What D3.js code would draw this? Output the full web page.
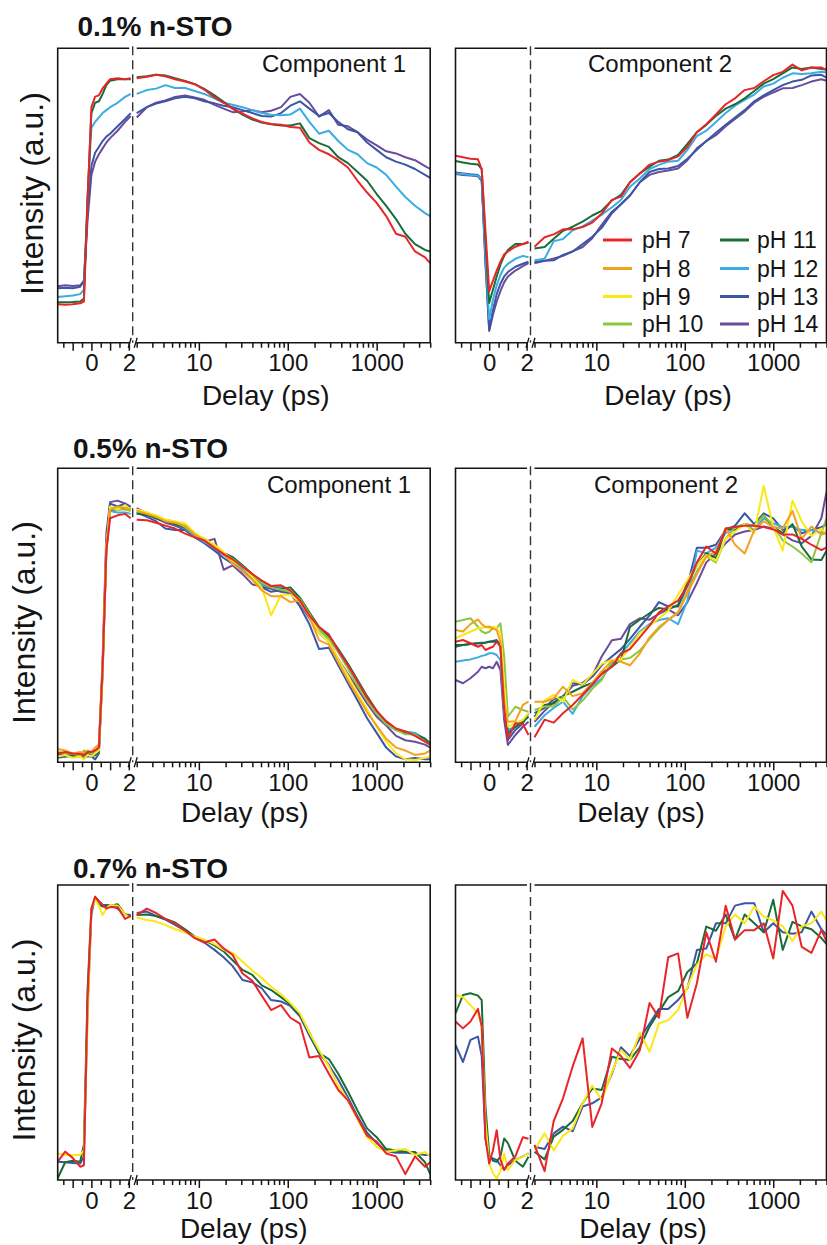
<!DOCTYPE html>
<html>
<head>
<meta charset="utf-8">
<script src="https://cdn.jsdelivr.net/npm/d3@7"></script>
<style>
  body { margin: 0; background: #fff; }
  svg { display: block; font-family: "Liberation Sans", Arial, sans-serif; }
</style>
</head>
<body>
<svg id="chart" width="827" height="1245"></svg>
<script>
// delay grid (ps): linear part before the axis break, log part after it
var delayLin = [-1.8, -1.4, -1.0, -0.6, -0.4, -0.2, 0, 0.2, 0.4, 0.6, 0.8, 1.0, 1.4, 1.8, 2.1];
var delayLog = [2, 2.6, 3.3, 4.2, 5.4, 7, 9, 11.5, 15, 19, 24, 31, 40, 51, 65, 84, 107, 137, 175, 225,
                290, 370, 475, 610, 780, 1000, 1280, 1650, 2100, 2700, 3500, 4000];

var phLevels = [7, 8, 9, 10, 11, 12, 13, 14];
var phColors = ["#e8262a", "#f6a01f", "#fbe815", "#8cc63f", "#1a6c38", "#3aade2", "#3b56a6", "#6a4c9c"];

var rowTitles = ["0.1% n-STO", "0.5% n-STO", "0.7% n-STO"];
var linTicks = [-1.5, -1, -0.5, 0, 0.5, 1, 1.5, 2];
var linLabels = [0, 2];
var logLabels = [10, 100, 1000];

// intensities in % of the panel height; 15 values on delayLin then 32 on delayLog
var sto01_c1 = {
  7:  [13.1, 12.9, 13.1, 13.4, 14, 48, 80, 83.6, 84, 86.4, 88, 89.5, 89.8, 89.5, 89.8,
       89.8, 90.3, 91, 90.5, 89.5, 88.7, 87.8, 86, 83.3, 81.5, 79.5, 77.8, 76.2, 75, 74.3, 74, 73.3, 73, 68, 65.5, 64, 62, 59.5, 55, 51, 47.5, 43, 37, 36, 31, 29, 27],
  11: [13.7, 13.7, 13.8, 14, 15, 50, 78, 81.5, 82, 84.5, 87.5, 89, 89.5, 89.5, 89.5,
       90.2, 90.5, 91, 90.8, 89.8, 88.9, 87.8, 86.2, 84, 81.8, 79.5, 77.5, 75.8, 74.8, 74.2, 73.8, 73.8, 74.5, 69.5, 67.8, 66.5, 63, 61, 58, 55, 50.5, 46.5, 42, 37, 33.5, 31.5, 31],
  12: [15.5, 15.8, 16, 16.5, 18, 50, 73, 75, 76.5, 78, 79, 80, 81.5, 83.5, 84.5,
       84.5, 85.8, 86.3, 87.5, 86.5, 86.5, 85.5, 84.5, 83, 81.5, 80.8, 80, 79, 78, 77.4, 77.3, 77.5, 79.5, 75, 71, 72, 68.5, 65.5, 64, 61, 59.5, 57, 53, 49.5, 46.5, 44, 43],
  13: [18.5, 18.7, 18.5, 19, 21, 45, 60, 64.5, 66.5, 68.5, 70, 71, 73.5, 76, 78,
       78, 80, 81.2, 82, 83, 83.5, 83, 82, 81.3, 80.5, 80, 79, 78, 77, 76.8, 78, 80.5, 82, 79.5, 77, 78, 75, 72.5, 71.5, 68, 65.5, 63, 61.5, 60.5, 59, 57, 56],
  14: [19.2, 19.5, 19.3, 19.5, 21, 42, 57, 61.5, 64, 66, 68, 69.5, 72, 75, 77,
       76.5, 80, 81.5, 82.3, 83.5, 84, 83.3, 82.5, 80.8, 79.5, 78.3, 78.5, 79, 78.3, 78.8, 80, 83.5, 84.5, 81.5, 76.8, 79, 74, 73.5, 71.5, 69, 67, 65, 64.3, 63, 62, 60, 59]
};

var sto01_c2 = {
  7:  [63.5, 63, 62.5, 62.3, 59, 38, 17.5, 21, 24.5, 27.5, 30, 31, 32.6, 33.5, 34.3,
       32.6, 35.8, 36.8, 38.5, 38.5, 39.3, 40.8, 43.8, 48.5, 49.6, 54.5, 57.5, 60.5, 61.5, 62, 63.3, 66.5, 71.5, 74.2, 77.5, 81, 83, 85.8, 86.5, 88.8, 90.9, 92, 94.5, 92.5, 93.5, 93.5, 92.6],
  11: [61.7, 61.2, 60.8, 60.5, 59, 35, 13.5, 18, 22.5, 26.5, 29.5, 31.5, 33.5, 33.5, 34,
       32, 32.5, 35.3, 38, 39.4, 41.1, 43.2, 44.8, 48.3, 50.2, 54.5, 57.5, 59.8, 61.8, 62.2, 63.8, 67.5, 71.5, 74, 77, 79.5, 81, 83, 85.5, 88, 89.5, 91.5, 93.5, 93, 93.5, 93, 92.8],
  12: [57.5, 57.3, 57, 56.8, 55.5, 30, 8, 14.5, 19.5, 23, 25.5, 26.8, 28.5, 29.5, 29,
       28, 28.5, 34.5, 35.2, 38.2, 39.5, 41.5, 43.5, 46, 48.5, 53, 55.8, 59, 60.4, 61.5, 61.8, 65.5, 70.2, 72, 75, 78, 80.5, 82.5, 84.3, 87, 88, 90, 91.5, 91.3, 91.5, 92, 91.8],
  13: [57.8, 57.5, 57.2, 57, 55.5, 28, 4.5, 11, 16.5, 20, 22.5, 24, 25.8, 26.8, 27.5,
       27.5, 27.8, 28, 29.8, 31, 33.5, 36, 39, 44, 47, 50, 54.5, 58, 59, 59.2, 60, 62.5, 65.5, 68.5, 71.3, 74, 76.5, 79, 82, 84, 85.8, 87.5, 88.7, 89.3, 90.8, 91, 90],
  14: [57.3, 57, 56.8, 56.5, 55, 27, 4, 9.5, 14, 17.5, 20.5, 22.5, 24.5, 26, 27,
       27, 27.8, 28.6, 29.5, 31, 32.5, 35.5, 40, 44.5, 47, 50, 54.5, 57, 58, 58.5, 59.2, 62, 66, 68.5, 70.5, 73.5, 76, 78.5, 81.5, 83.5, 85, 86.4, 86.5, 87.5, 88.7, 89.5, 89]
};

var sto05_c1 = {
  7:  [3, 3.5, 3, 2.8, 2.5, 3.5, 3.5, 4, 5, 32, 72, 83, 84, 84.5, 83,
       82.5, 82.3, 81.5, 80.5, 79.5, 77.8, 76.5, 75.5, 72.9, 70.8, 69, 66.5, 64, 61.8, 60, 60.2, 58.5, 55, 50, 46, 43.5, 38, 33, 27.5, 22, 17.5, 14, 11.5, 10.5, 9, 7, 6],
  8:  [4.5, 4, 3, 3.5, 3, 4, 3.5, 5, 6, 33, 74, 86, 87, 86.5, 86,
       85.5, 84.5, 83.5, 82, 81.5, 80.5, 77.5, 75.5, 73, 71, 67.5, 65, 62, 58.5, 56.5, 56.5, 54.5, 55, 49.5, 41.5, 40, 34, 28, 22.5, 17, 12.5, 8, 5, 4, 2.5, 3, 4],
  9:  [2, 2.5, 1.5, 2, 1, 2.5, 2, 3, 4, 30, 73, 87, 86, 87.5, 86,
       86, 85, 84, 82.5, 82, 81.2, 78, 76, 74, 71.5, 68.5, 66.5, 63, 59.5, 50, 57, 57, 54.5, 50, 44, 41, 35, 29.5, 23.5, 18, 12, 7, 3, 1, 0.8, 1.5, 2],
  10: [3.5, 3, 3, 2, 4, 3.5, 3, 4, 5, 33, 73, 86.5, 86, 86, 85.5,
       85.8, 85, 83.5, 82.5, 81.8, 80, 77.5, 75.8, 73.5, 71, 69.2, 66.5, 63.5, 61, 59.5, 58.7, 58, 55.5, 50.5, 45, 42, 37.5, 32, 26, 21, 16.5, 13, 11, 9.5, 9.5, 7, 6],
  11: [2.5, 2, 2.5, 2, 2.5, 3, 2, 2.5, 3.5, 31, 72, 86, 86, 86.5, 86,
       84.5, 84.2, 83, 82, 81, 79.8, 77.5, 76, 73.8, 71.2, 69.8, 67, 64, 61, 59.5, 59, 59.5, 56, 51, 46, 43, 38.5, 33.5, 28, 22.5, 17.5, 13.5, 11, 10, 9.5, 8, 6.5],
  12: [2.5, 2, 2, 2.5, 2, 3, 2.5, 2.5, 3.5, 30, 72, 85.5, 85, 85, 84.5,
       85, 84.5, 83.3, 82, 81, 79.5, 77, 75, 73, 70.5, 68.3, 65.8, 63, 60.5, 59.5, 59.8, 58, 55, 50, 45, 42.5, 37.5, 32, 26.5, 21.5, 17, 13, 11, 10.5, 10, 8, 6],
  13: [1.5, 2, 2.5, 2, 1.5, 2, 2, 1, 3, 32, 75, 88, 87, 88, 87,
       85, 83.5, 82, 79.5, 79, 79, 76.5, 74.5, 72, 69.5, 67.5, 65, 62.5, 59.5, 58, 58.5, 57.5, 53, 47, 38.5, 39, 33, 27, 21, 15, 10, 5, 2, 1, 1.5, 1, 1],
  14: [2.5, 3, 2, 3, 2.5, 3, 2.5, 3, 4, 35, 78, 88.5, 89, 88, 86,
       86.5, 84.5, 83, 81.5, 80.5, 79, 77, 75, 76, 65.5, 67, 64, 60.5, 59.8, 59, 58, 57.5, 54, 49, 44, 41, 35, 30, 25, 20, 15.5, 12.5, 9, 7.5, 7, 6, 5]
};

var sto05_c2 = {
  7:  [41, 41.6, 40.5, 39.3, 39.9, 38.2, 38.8, 39.3, 41, 39.3, 17.8, 8.2, 13.3, 13, 9.3,
       8.5, 14.5, 13.5, 16.7, 19.5, 23, 26.5, 30, 32.5, 37, 38.5, 42.5, 46.5, 51, 53, 55, 60, 68, 73.4, 71, 79.5, 80, 80.5, 80.5, 80, 79.2, 77.5, 77.5, 76, 74, 72.2, 73],
  8:  [45, 44.5, 47, 48.6, 47, 46, 46.2, 45.5, 45, 41, 20.5, 13.8, 14, 19.5, 20.6,
       20.6, 20.6, 21.8, 25.7, 22.5, 23.5, 27, 31, 34.5, 34.2, 33, 37, 42.5, 46, 48.4, 51, 57.5, 64, 70, 71.7, 79.5, 74, 71, 79, 82, 80, 79.5, 85.5, 76, 80.2, 77.5, 78],
  9:  [42.2, 43.3, 44.4, 45.6, 45.6, 46.1, 45.6, 46.1, 45.6, 43.9, 25.7, 12.1, 13.3, 14.4, 16.7,
       14.4, 21, 23, 20.6, 28, 26.5, 30, 33.5, 34.8, 35, 39, 44, 46.5, 49, 51.5, 57, 62, 67, 70.5, 68.5, 76, 78.5, 81, 78, 94, 80, 72, 89, 82, 77, 79.5, 77.5],
  10: [47.8, 48.4, 49, 46.1, 44.5, 43.9, 44.4, 45.6, 45.6, 47.3, 36, 15.5, 18.9, 17.8, 17.2,
       17.8, 19, 19, 22.3, 18, 21, 25, 28, 34.5, 35, 35.5, 38, 42, 45.5, 48.4, 51, 58, 65, 70, 68, 76, 80, 81, 80.5, 84, 80.5, 75.5, 73.4, 71, 68, 78, 83],
  11: [39.9, 39.9, 40.2, 40.5, 40.7, 40.7, 41, 41, 41, 40.5, 20, 9.9, 12, 13.8, 15.5,
       15.5, 19.5, 20, 22.5, 24, 25.7, 27, 30.3, 32.5, 35, 46, 48.5, 50.7, 52.5, 52, 53.5, 61, 67, 71.1, 69.5, 79.5, 79, 81, 80.5, 84, 80, 78, 81, 73.4, 69, 68.8, 72],
  12: [34.2, 34.6, 35, 35.7, 36.2, 36.5, 37.1, 37.1, 36.5, 34.8, 16.7, 11, 12.1, 14.4, 15.5,
       12.1, 16, 18.5, 20.6, 16.5, 22.5, 26, 28.5, 33.5, 37, 40.5, 44.5, 47, 48.4, 49, 47, 55, 72, 71.1, 73, 78, 80, 81, 79, 83, 81.3, 80, 80, 79, 79, 78, 78],
  13: [39.3, 39.9, 40.2, 40.5, 40.5, 40.7, 41, 41.3, 41.6, 39.9, 16.7, 7.6, 11, 13.3, 16.7,
       16.7, 18.5, 21.5, 22.3, 26.9, 26.5, 29.1, 33, 36, 38.5, 42, 46.1, 50, 54.5, 53, 53, 60, 73, 73, 74, 79, 80.5, 84.7, 81, 84.7, 83, 79, 80.5, 77.9, 79, 80, 81],
  14: [28, 26.9, 28.6, 30.8, 32.5, 32, 32.5, 32, 34.2, 31.4, 14.4, 5.9, 9.3, 12.1, 13.8,
       13.8, 17.5, 20.5, 22.3, 26, 27, 29.5, 36, 41.5, 42, 47, 49, 48.5, 50.5, 52, 50, 54.5, 61, 68, 71, 74.5, 77.5, 78.5, 79, 80.2, 79.5, 77.5, 75.5, 74.5, 77, 83, 92]
};

var sto07_c1 = {
  7:  [6.2, 9.6, 7.5, 4.5, 5, 62, 92, 96, 94.5, 93.2, 92, 92.5, 92.5, 88.5, 89.5,
       89.8, 92, 90.5, 88.5, 87, 84.5, 82, 80.5, 81.5, 78.5, 76.3, 70, 67.5, 62.5, 57.6, 59.3, 55, 53, 41.5, 42, 36, 30.5, 27, 21, 15, 13, 9, 8, 2, 8, 4.5, 6],
  9:  [9, 8.5, 8.5, 8.5, 10, 55, 92, 95, 93, 89.8, 92, 93.2, 93, 90, 88.8,
       89, 88.1, 87.6, 86.5, 85, 84, 82.5, 81.5, 80, 78, 77, 74, 71, 68.5, 65.5, 63, 60, 56.5, 50, 44, 38.5, 32, 27, 20.5, 14.5, 11.3, 9.5, 10.2, 10.5, 8.5, 9.5, 8],
  11: [0.6, 6, 6.5, 6.2, 12, 65, 92, 95.5, 93.5, 92.7, 92.7, 93, 93.5, 90, 89.5,
       89.8, 90, 89.5, 88.5, 87.3, 85, 82.5, 81.3, 79.5, 77.5, 74.5, 71.2, 69.5, 66, 64.4, 62, 59.5, 56, 50, 43, 41, 36, 30, 23.5, 17.5, 14.5, 10.5, 10, 9.6, 9.5, 6, 2],
  13: [6.2, 6, 5.8, 5.6, 8, 58, 90, 96, 94.5, 93.2, 93.2, 93.2, 92, 90, 89.8,
       90.5, 91, 89.5, 88.3, 86.5, 84.5, 82.5, 80.5, 78, 75.5, 72.5, 67.8, 67, 65, 61, 60.5, 59, 55.5, 49, 43, 39, 34, 28, 21.5, 16, 12.5, 9.8, 9.2, 9.2, 9, 8.5, 8.5]
};

var sto07_c2 = {
  7:  [53.7, 51.4, 53.7, 58, 52, 14, 5.6, 10, 16.9, 7, 3.4, 5.6, 8, 14.5, 14,
       11.9, 3, 20, 27.7, 38.5, 48, 18, 26, 44.6, 42, 38, 44, 60, 55, 75.5, 76.8, 55, 66.7, 84, 74, 93, 81.5, 84.7, 84.7, 87, 75.1, 98, 93, 79, 77, 84.7, 81],
  9:  [62.7, 62, 59.3, 56.5, 52, 20, 5.6, 2.3, 0.5, 3, 9, 3.4, 6.8, 7.9, 9,
       10.2, 15.8, 10, 15, 17.5, 26, 32, 27.1, 36.5, 44, 40.7, 50, 43.5, 53, 54.2, 57.6, 65.5, 73, 76.5, 75, 86, 90, 87, 92.7, 89.3, 88, 86, 81, 86, 87, 91, 88],
  11: [56.5, 62.7, 63.3, 62.5, 61, 25, 8.5, 6.5, 6.2, 8, 14.1, 12.5, 6.5, 4.5, 7.9,
       9.6, 7, 14.7, 17, 20, 26, 31, 30.5, 41.8, 41, 40.7, 45, 52, 57, 62, 64, 70.5, 73.4, 85.9, 84.5, 90, 81.5, 90, 87, 84, 95, 78, 87.5, 86, 85, 82, 80],
  13: [45.8, 40, 47.5, 48.6, 42, 14, 7.9, 7.3, 6.8, 5, 3.5, 5, 6.8, 8, 9,
       11.3, 10.5, 15.8, 18.1, 16.5, 24.9, 26, 28, 36, 45, 42, 48, 53, 58, 58, 61, 65, 78, 78.5, 87, 87, 93, 93.8, 93.8, 84, 87, 84, 83.5, 84, 91, 85, 83]
};

// panel layout
var colLeft = [57.7, 455.5];
var colWidth = [372.5, 371];
var rowTop = [48.3, 468.3, 885];
var rowBottom = [342.7, 762.3, 1180];
var titlePos = [[77.5, 35.5], [73, 458], [73, 878]];
var yLabelPos = [[43, 193.5], [35, 622.5], [35, 1040]];
var delayPos = [[[208, 405], [212.5, 405]], [[187, 821.5], [185.5, 821.5]], [[186, 1238], [187.5, 1238]]];

var panels = [
  { row: 0, col: 0, data: sto01_c1, comp: "Component 1", compX: 262, compY: 71.7 },
  { row: 0, col: 1, data: sto01_c2, comp: "Component 2", compX: 588, compY: 71.7, legend: true },
  { row: 1, col: 0, data: sto05_c1, comp: "Component 1", compX: 267, compY: 493 },
  { row: 1, col: 1, data: sto05_c2, comp: "Component 2", compX: 594, compY: 493 },
  { row: 2, col: 0, data: sto07_c1 },
  { row: 2, col: 1, data: sto07_c2 }
];

var svg = d3.select("#chart");
var ink = "#141414";
var color = d3.scaleOrdinal().domain(phLevels).range(phColors);

panels.forEach(function(p, pi){
	var L = colLeft[p.col], W = colWidth[p.col];
	var top = rowTop[p.row], bottom = rowBottom[p.row];
	var xLin = d3.scaleLinear().domain([-1.8, 2.1]).range([L, L + 73]);
	var xLog = d3.scaleLog().domain([2, 4000]).range([L + 79, L + W]);
	var y = d3.scaleLinear().domain([0, 100]).range([bottom, top]);

	svg.append("clipPath").attr("id", "clip" + pi)
		.append("rect")
		.attr("x", L).attr("y", top)
		.attr("width", W).attr("height", bottom - top);

	// Draw curves, red on top
	var curves = svg.append("g").attr("clip-path", "url(#clip" + pi + ")");
	var shown = phLevels.filter(function(ph){ return p.data[ph]; }).reverse();
	var nLin = delayLin.length;
	shown.forEach(function(ph){
		var vals = p.data[ph];
		var linPart = delayLin.map(function(t, i){ return [t, vals[i]]; });
		var logPart = delayLog.map(function(t, i){ return [t, vals[nLin + i]]; });
		[[linPart, xLin], [logPart, xLog]].forEach(function(part){
			var sx = part[1];
			curves.append("path")
				.attr("d", d3.line()
					.x(function(d){ return sx(d[0]); })
					.y(function(d){ return y(d[1]); })(part[0]))
				.attr("fill", "none")
				.attr("stroke", color(ph))
				.attr("stroke-width", 2)
				.attr("stroke-linejoin", "round");
		});
	});

	// Frame with the break
	var frame = svg.append("g")
		.attr("fill", "none")
		.attr("stroke", ink)
		.attr("stroke-width", 1.6);
	frame.append("path").attr("d",
		"M " + (L + 71.5) + " " + top + " H " + L + " V " + bottom + " H " + (L + 72.5) +
		" M " + (L + 78.5) + " " + bottom + " H " + (L + W) + " V " + top + " H " + (L + 79));
	frame.append("path").attr("stroke-width", 1.3).attr("d",
		"M " + (L + 70.5) + " " + (bottom + 5) + " L " + (L + 73.5) + " " + (bottom - 5) +
		" M " + (L + 76.5) + " " + (bottom + 5) + " L " + (L + 79.5) + " " + (bottom - 5));
	svg.append("line")
		.attr("x1", L + 75).attr("x2", L + 75)
		.attr("y1", top - 2).attr("y2", bottom)
		.attr("stroke", "#333")
		.attr("stroke-width", 1.4)
		.attr("stroke-dasharray", "9,5");

	// Axis ticks
	var logMinor = [];
	[1, 10, 100, 1000].forEach(function(dec){
		[2, 3, 4, 5, 6, 7, 8, 9].forEach(function(m){
			if(m * dec >= 2 && m * dec <= 4000) logMinor.push(m * dec);
		});
	});
	var axes = [
		d3.axisBottom(xLin).tickValues(linTicks.filter(function(v){ return v % 1 !== 0; })).tickSize(5).tickFormat(""),
		d3.axisBottom(xLin).tickValues(linTicks.filter(function(v){ return v % 1 === 0; })).tickSize(8)
			.tickFormat(function(v){ return linLabels.indexOf(v) >= 0 ? v : ""; }),
		d3.axisBottom(xLog).tickValues(logMinor).tickSize(5).tickFormat(""),
		d3.axisBottom(xLog).tickValues(logLabels).tickSize(8).tickFormat(d3.format("d"))
	];
	axes.forEach(function(ax){
		var g = svg.append("g").attr("transform", "translate(0," + bottom + ")").call(ax);
		g.select(".domain").remove();
		g.selectAll(".tick line").attr("stroke", ink).attr("stroke-width", 1.5);
		g.selectAll(".tick text")
			.attr("y", 28.5).attr("dy", null)
			.attr("fill", ink)
			.style("font-size", "24px")
			.style("font-family", "'Liberation Sans', Arial, sans-serif");
	});

	svg.append("text")
		.attr("x", L + delayPos[p.row][p.col][0])
		.attr("y", delayPos[p.row][p.col][1])
		.attr("text-anchor", "middle")
		.attr("fill", ink)
		.style("font-size", "28px")
		.text("Delay (ps)");

	if(p.comp){
		svg.append("text")
			.attr("x", p.compX).attr("y", p.compY)
			.attr("fill", ink)
			.style("font-size", "24px")
			.text(p.comp);
	}

	if(p.col === 0){
		svg.append("text")
			.attr("x", titlePos[p.row][0]).attr("y", titlePos[p.row][1])
			.attr("fill", ink)
			.style("font-size", "28px")
			.style("font-weight", "bold")
			.text(rowTitles[p.row]);
		svg.append("text")
			.attr("transform", "translate(" + yLabelPos[p.row][0] + "," + yLabelPos[p.row][1] + ") rotate(-90)")
			.attr("text-anchor", "middle")
			.attr("fill", ink)
			.style("font-size", "32px")
			.text("Intensity (a.u.)");
	}

	if(p.legend){
		var legRows = [240, 268.5, 296.5, 324];
		var leg = svg.append("g");
		phLevels.forEach(function(ph, i){
			var c = Math.floor(i / 4), r = i % 4;
			var lx = c === 0 ? 603 : 720;
			leg.append("line")
				.attr("x1", lx).attr("x2", lx + 29)
				.attr("y1", legRows[r]).attr("y2", legRows[r])
				.attr("stroke", color(ph))
				.attr("stroke-width", 3);
			leg.append("text")
				.attr("x", lx + (c === 0 ? 39 : 37))
				.attr("y", legRows[r] + 8)
				.attr("fill", ink)
				.style("font-size", "23px")
				.text("pH " + ph);
		});
	}
});
</script>
</body>
</html>
